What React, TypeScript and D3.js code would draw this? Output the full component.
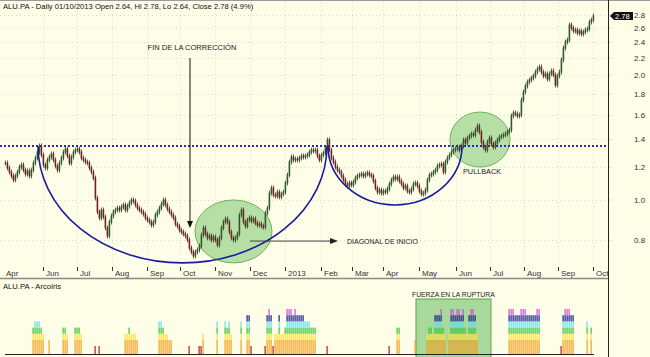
import React from "react";
import * as d3 from "d3";

// Daily closes (ALU.PA), one per bar, Apr 2012 -> 01/10/2013
const closes = [1.228,1.195,1.168,1.143,1.118,1.143,1.168,1.201,1.215,1.181,
1.155,1.175,1.143,1.181,1.228,1.263,1.305,1.350,1.284,1.215,
1.195,1.249,1.270,1.291,1.249,1.208,1.181,1.228,1.263,1.305,
1.328,1.277,1.228,1.270,1.305,1.320,1.328,1.305,1.263,1.249,
1.235,1.228,1.195,1.168,1.130,1.011,0.936,0.905,0.946,0.910,
0.856,0.819,0.885,0.915,0.936,0.946,0.956,0.946,0.962,0.973,
0.946,0.967,0.984,1.000,0.994,0.973,0.956,0.946,0.936,0.925,
0.905,0.895,0.885,0.870,0.885,0.920,0.936,0.956,0.978,1.000,
0.973,0.951,0.936,0.920,0.905,0.875,0.865,0.846,0.837,0.828,
0.819,0.801,0.766,0.749,0.733,0.749,0.758,0.774,0.823,0.856,
0.828,0.810,0.819,0.801,0.814,0.801,0.779,0.810,0.856,0.885,
0.900,0.885,0.837,0.810,0.801,0.810,0.828,0.920,0.946,0.885,
0.865,0.895,0.905,0.890,0.900,0.880,0.870,0.875,0.865,0.860,
0.930,0.956,1.039,1.069,1.028,1.022,1.045,1.017,1.034,1.045,
1.099,1.149,1.235,1.270,1.249,1.256,1.249,1.263,1.277,1.270,
1.277,1.284,1.305,1.320,1.313,1.320,1.277,1.249,1.284,1.298,
1.335,1.396,1.320,1.263,1.235,1.201,1.181,1.168,1.143,1.118,
1.093,1.081,1.099,1.087,1.105,1.130,1.143,1.149,1.155,1.143,
1.155,1.162,1.149,1.143,1.111,1.069,1.045,1.057,1.039,1.051,
1.045,1.063,1.093,1.118,1.136,1.124,1.136,1.111,1.093,1.069,
1.081,1.051,1.045,1.063,1.093,1.099,1.081,1.051,1.034,1.039,
1.057,1.118,1.149,1.155,1.168,1.181,1.208,1.215,1.221,1.168,
1.235,1.263,1.284,1.305,1.320,1.328,1.342,1.320,1.350,1.396,
1.373,1.411,1.427,1.443,1.435,1.475,1.509,1.459,1.380,1.342,
1.320,1.380,1.411,1.365,1.342,1.373,1.396,1.419,1.427,1.435,
1.443,1.459,1.475,1.595,1.622,1.613,1.595,1.604,1.743,1.822,
1.884,1.926,1.948,1.970,1.992,2.036,2.070,2.094,2.036,1.992,
2.014,1.959,2.014,2.048,2.003,1.894,1.992,2.036,2.177,2.327,
2.406,2.432,2.644,2.600,2.557,2.571,2.529,2.557,2.515,2.543,
2.571,2.586,2.688,2.718,2.780];

// Month ticks (bar index positions) and labels
const monthLabels = ["Jun","Jul","Aug","Sep","Oct","Nov","Dec","2013","Feb","Mar","Apr","May","Jun","Jul","Aug","Sep","Oct"];
const monthIdx = [19,36,53.5,71,87.5,105,122.5,140,158,173.5,189,207,225.5,242.5,259.5,276.5,294];
const firstLabel = "Apr";

// Price axis ticks
const priceTicks = [0.8,1.0,1.2,1.4,1.6,1.8,2.0,2.2,2.4,2.6,2.8];
const resistance = 1.35;
const lastClose = 2.78;

// ArcoIris indicator: [bar index, level] (level 7 = short red bar)
const arcoIris: [number, number][] = [
[14,3],[15,4],[16,4],[17,4],[18,3],[19,2],[22,1],
[29,3],[30,3],[31,2],[35,3],[36,3],[37,3],[38,2],
[45,7],[47,7],
[60,2],[61,2],[62,3],[63,2],[64,2],[65,2],[66,1],
[77,4],[78,4],[79,3],[80,2],[81,2],[82,1],[83,1],
[92,7],[97,7],[98,7],[99,2],[106,4],
[110,4],[111,3],[112,4],[113,2],[118,4],[121,5],[122,5],[123,7],
[130,7],[131,5],[132,6],[133,5],[134,7],[135,2],[136,2],[137,5],[138,2],[139,2],[140,3],
[141,6],[142,6],[143,6],[144,5],[145,6],[146,5],[147,5],[148,5],[149,5],
[150,4],[151,4],[152,4],[153,3],[154,3],[155,3],
[161,7],[192,7],[196,3],[197,3],[205,1],
[211,2],[212,3],[213,3],[214,2],[215,5],[216,5],[217,5],[218,6],[219,3],[220,2],
[222,2],[223,6],[224,6],[225,5],[226,6],[227,6],[228,5],[229,6],[230,3],[231,2],
[232,5],[233,6],[234,6],[235,5],[236,2],
[252,6],[253,6],[254,6],[255,5],[256,5],[257,5],[258,6],[259,6],[260,6],
[261,5],[262,5],[263,5],[264,5],[265,5],[266,6],[267,6],
[278,7],[279,5],[280,6],[281,6],[282,6],[283,5],[284,5],[291,4],[293,3]
];
const levelColors = ["#f0a020","#fbe03a","#3dc23d","#62def0","#1a1a8a","#d64bd6"];

const FONT = "'Liberation Sans', Arial, sans-serif";
const BG = "#fdfde8";

export default function App() {
  const x = d3.scaleLinear().domain([0, closes.length - 1]).range([5, 593]);
  const y = d3.scaleLog().domain([1, Math.E]).range([200, 20]);
  const yL = d3.scaleLinear().domain([0, 1, 6]).range([354, 340, 309]);

  const plotRight = 608;
  const yRes = y(resistance);

  const halfEllipse = (i1: number, i2: number, pTop: number, pBot: number) => {
    const x1 = x(i1), x2 = x(i2), yt = y(pTop), yb = y(pBot);
    const rx = (x2 - x1) / 2, ry = yb - yt;
    return `M${x1},${yt} A${rx},${ry} 0 0 0 ${x2},${yt}`;
  };
  const ellipse = (i1: number, i2: number, pLo: number, pHi: number) => {
    const x1 = x(i1), x2 = x(i2), y1 = y(pHi), y2 = y(pLo);
    return { cx: (x1 + x2) / 2, cy: (y1 + y2) / 2, rx: (x2 - x1) / 2, ry: (y2 - y1) / 2 };
  };
  const e1 = ellipse(95, 133.5, 0.705, 1.0);
  const e2 = ellipse(222.5, 252.5, 1.201, 1.63);

  const finX = x(92.5), finY1 = y(2.2), finY2 = y(0.856);
  const dX1 = x(122.5), dX2 = x(166.5), dY = y(0.796);

  return (
    <div style={{ position: "absolute", left: 0, top: 0 }}>
      <svg width={650} height={357} style={{ display: "block", fontFamily: FONT }}>
        <rect x={0} y={0} width={650} height={357} fill={BG} />
        <line x1={0} x2={650} y1={0.5} y2={0.5} stroke="#9a9a9a" />

        {priceTicks.map((p) => (
          <line key={"g" + p} x1={0} x2={plotRight} y1={Math.round(y(p)) + 0.5} y2={Math.round(y(p)) + 0.5}
            stroke="#dcdcc6" strokeDasharray="1,3" />
        ))}
        {monthIdx.map((m, k) => (
          <line key={"v" + k} x1={Math.round(x(m)) + 0.5} x2={Math.round(x(m)) + 0.5} y1={2} y2={266}
            stroke="#dcdcc6" strokeDasharray="1,3" />
        ))}

        <ellipse cx={e1.cx} cy={e1.cy} rx={e1.rx} ry={e1.ry} fill="#a9d99a" fillOpacity={0.85} stroke="#6cb35c" strokeWidth={1} />
        <ellipse cx={e2.cx} cy={e2.cy} rx={e2.rx} ry={e2.ry} fill="#a9d99a" fillOpacity={0.85} stroke="#6cb35c" strokeWidth={1} />

        <line x1={0} x2={plotRight} y1={yRes} y2={yRes} stroke="#2b2bb0" strokeWidth={2} strokeDasharray="2,2" />

        {closes.map((c, i) => {
          const o = i > 0 ? closes[i - 1] : c;
          const up = c >= o;
          const yt = y(Math.max(o, c));
          const yb = y(Math.min(o, c));
          const col = up ? "#2c5a28" : "#74201e";
          return (
            <g key={"b" + i}>
              <line x1={x(i) + 0.5} x2={x(i) + 0.5} y1={yt - 2.5} y2={yb + 2.5} stroke="#3a3a30" strokeWidth={0.8} />
              <rect x={x(i) - 0.4} y={yt - 0.5} width={1.6} height={Math.max(1.5, yb - yt + 1)} fill={col} />
            </g>
          );
        })}

        <path d={halfEllipse(16.5, 161, resistance, 0.705)} fill="none" stroke="#1c1ca0" strokeWidth={1.6} />
        <path d={halfEllipse(161.5, 228.5, resistance, 0.973)} fill="none" stroke="#1c1ca0" strokeWidth={1.6} />

        <text x={finX + 2} y={finY1 - 8} fontSize={7.5} textAnchor="middle" fill="#222">FIN DE LA CORRECCIÓN</text>
        <line x1={finX} x2={finX} y1={finY1} y2={finY2 - 6} stroke="#111" strokeWidth={1} />
        <polygon points={`${finX - 3},${finY2 - 7} ${finX + 3},${finY2 - 7} ${finX},${finY2}`} fill="#111" />

        <line x1={dX1} x2={dX2 - 7} y1={dY} y2={dY} stroke="#444" strokeWidth={1} />
        <polygon points={`${dX2 - 8},${dY - 3} ${dX2 - 8},${dY + 3} ${dX2},${dY}`} fill="#222" />
        <text x={x(171)} y={dY + 2.5} fontSize={7} fill="#222">DIAGONAL DE INICIO</text>

        <text x={x(229)} y={y(1.169) + 2.5} fontSize={7.3} fill="#222">PULLBACK</text>

        <text x={3} y={9} fontSize={7.6} fill="#111">ALU.PA - Daily 01/10/2013 Open 2.64, Hi 2.78, Lo 2.64, Close 2.78 (4.9%)</text>

        <line x1={plotRight + 0.5} x2={plotRight + 0.5} y1={0} y2={357} stroke="#222" />
        {priceTicks.map((p) => (
          <g key={"t" + p}>
            <line x1={plotRight + 1} x2={plotRight + 5} y1={y(p)} y2={y(p)} stroke="#ccc" strokeDasharray="1,1" />
            <text x={634} y={y(p) + 3} fontSize={8} fill="#333">{p.toFixed(1)}</text>
          </g>
        ))}
        <polygon points={`${plotRight + 2},${y(lastClose)} ${plotRight + 6},${y(lastClose) - 4} ${plotRight + 25},${y(lastClose) - 4} ${plotRight + 25},${y(lastClose) + 4} ${plotRight + 6},${y(lastClose) + 4}`} fill="#111" />
        <text x={plotRight + 7} y={y(lastClose) + 2.8} fontSize={7.5} fill="#fff">{lastClose.toFixed(2)}</text>

        <text x={x(0) + 1} y={276} fontSize={8} fill="#333">{firstLabel}</text>
        {monthIdx.map((m, k) => (
          <g key={"m" + k}>
            <line x1={Math.round(x(m)) + 0.5} x2={Math.round(x(m)) + 0.5} y1={267} y2={271} stroke="#333" />
            <text x={x(m) + 3} y={276} fontSize={8} fill="#333">{monthLabels[k]}</text>
          </g>
        ))}
        <line x1={0} x2={plotRight} y1={278.5} y2={278.5} stroke="#8a8a8a" strokeWidth={1.5} />

        <text x={3} y={289} fontSize={7.6} fill="#111">ALU.PA - ArcoIris</text>
        <rect x={x(205.5)} y={299} width={x(243) - x(205.5)} height={60} fill="#a9d99a" stroke="#5aa64a" />
        <text x={x(203.5)} y={297} fontSize={6.8} fill="#222">FUERZA EN LA RUPTURA</text>
        {arcoIris.map(([i, lv]) => {
          const bx = x(i) - 0.5;
          if (lv === 7) {
            return <rect key={"a" + i} x={bx} y={346} width={1.2} height={8} fill="#b22222" />;
          }
          const segs = [];
          for (let l = 1; l <= lv; l++) {
            const top = yL(l), bot = yL(l - 1);
            segs.push(<rect key={l} x={bx} y={top} width={1.2} height={bot - top} fill={levelColors[l - 1]} />);
          }
          return <g key={"a" + i}>{segs}</g>;
        })}
        <line x1={5} x2={594} y1={354.5} y2={354.5} stroke="#222" />
      </svg>
    </div>
  );
}
